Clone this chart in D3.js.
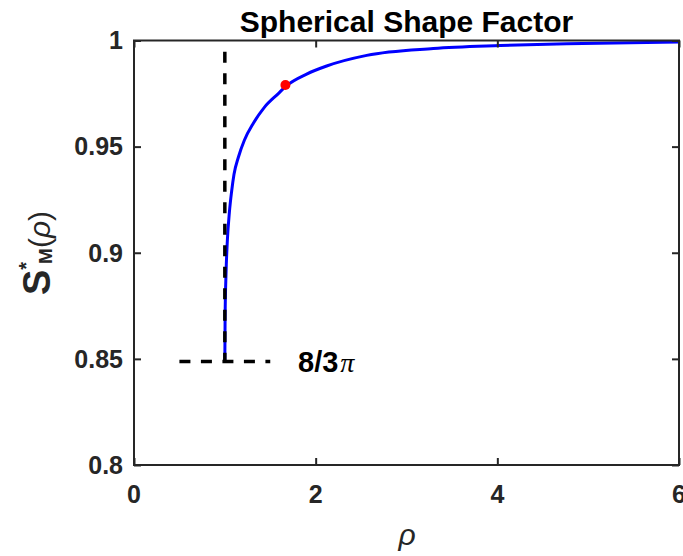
<!DOCTYPE html>
<html>
<head>
<meta charset="utf-8">
<script src="https://cdn.jsdelivr.net/npm/d3@7"></script>
<style>
  body { margin: 0; background: #fff; }
  text { font-family: "Liberation Sans", Arial, sans-serif; }
</style>
</head>
<body>
<svg id="chart" width="683" height="556" viewBox="0 0 683 556"></svg>
<script>
// values
let rho = [1.000, 1.003, 1.013, 1.028, 1.050, 1.075, 1.101, 1.149, 1.215, 1.314,
           1.435, 1.589, 1.673, 1.901, 2.121, 2.562, 3.295, 4.030, 4.764, 6.000];
let shape = [0.8488, 0.870, 0.890, 0.906, 0.919, 0.929, 0.937, 0.945, 0.953, 0.961,
             0.9685, 0.975, 0.9785, 0.9842, 0.988, 0.993, 0.9962, 0.9976, 0.9985, 0.9993];
let markerRho = [1.667];
let markerShape = [0.979];
let vLineRho = [1, 1];
let vLineShape = [0.9947, 0.8488];
let hLineRho = [0.5, 1.5];
let hLineShape = [0.8488, 0.8488];
let xTicks = [0, 2, 4, 6];
let yTicks = [0.8, 0.85, 0.9, 0.95, 1];
let yTickLabels = ["0.8", "0.85", "0.9", "0.95", "1"];

let svg = d3.select("#chart");
let margins = {top: 40.5, right: 4, bottom: 91, left: 134};
let innerWidth = 683 - margins.left - margins.right;
let innerHeight = 556 - margins.top - margins.bottom;

let x = d3.scaleLinear([0, 6], [0, innerWidth]);
let y = d3.scaleLinear([0.8, 1], [innerHeight, 0]);

let chart = svg.append("g")
    .attr("transform", `translate(${margins.left},${margins.top})`);

// curve
let line = d3.line()
    .x(d => x(d[0]))
    .y(d => y(d[1]))
    .curve(d3.curveMonotoneX);

chart.append("path")
    .datum(rho.map((r, i) => [r, shape[i]]))
    .attr("d", line)
    .attr("fill", "none")
    .attr("stroke", "#0000ff")
    .attr("stroke-width", 3);

// dashed guides
let guide = d3.line().x(d => x(d[0])).y(d => y(d[1]));
[[vLineRho, vLineShape], [hLineRho, hLineShape]].forEach(g => {
    chart.append("path")
        .datum(g[0].map((r, i) => [r, g[1][i]]))
        .attr("d", guide)
        .attr("fill", "none")
        .attr("stroke", "#000")
        .attr("stroke-width", 3.5)
        .attr("stroke-dasharray", "11,10.5");
});

// marker
chart.selectAll(".dot")
    .data(markerRho)
    .enter().append("circle")
    .attr("class", "dot")
    .attr("cx", d => x(d))
    .attr("cy", (d, i) => y(markerShape[i]))
    .attr("r", 5)
    .attr("fill", "#ff0000");

// axes box with inward ticks
let axisColor = "#262626";
function styleAxis(g) {
    g.select(".domain").remove();
    g.selectAll(".tick line").attr("stroke", axisColor).attr("stroke-width", 2);
    g.selectAll(".tick text").remove();
}
chart.append("g")
    .attr("transform", `translate(0,${innerHeight})`)
    .call(d3.axisBottom(x).tickValues(xTicks).tickSize(-7))
    .call(styleAxis);
chart.append("g")
    .call(d3.axisTop(x).tickValues(xTicks).tickSize(-7))
    .call(styleAxis);
chart.append("g")
    .call(d3.axisLeft(y).tickValues(yTicks).tickSize(-7))
    .call(styleAxis);
chart.append("g")
    .attr("transform", `translate(${innerWidth},0)`)
    .call(d3.axisRight(y).tickValues(yTicks).tickSize(-7))
    .call(styleAxis);

chart.append("rect")
    .attr("x", 0).attr("y", 0)
    .attr("width", innerWidth).attr("height", innerHeight)
    .attr("fill", "none")
    .attr("stroke", axisColor)
    .attr("stroke-width", 2);

// tick labels
chart.selectAll(".xlab")
    .data(xTicks)
    .enter().append("text")
    .attr("x", d => x(d))
    .attr("y", innerHeight + 38)
    .attr("text-anchor", "middle")
    .attr("font-size", 25)
    .attr("font-weight", "bold")
    .attr("fill", axisColor)
    .text(d => d);

chart.selectAll(".ylab")
    .data(yTicks)
    .enter().append("text")
    .attr("x", -11)
    .attr("y", d => y(d))
    .attr("dy", "0.35em")
    .attr("text-anchor", "end")
    .attr("font-size", 25)
    .attr("font-weight", "bold")
    .attr("fill", axisColor)
    .text((d, i) => yTickLabels[i]);

// title
svg.append("text")
    .attr("x", margins.left + innerWidth / 2)
    .attr("y", 32)
    .attr("text-anchor", "middle")
    .attr("font-size", 30)
    .attr("font-weight", "bold")
    .attr("fill", "#000")
    .text("Spherical Shape Factor");

// x label
svg.append("text")
    .attr("x", 407)
    .attr("y", 545)
    .attr("text-anchor", "middle")
    .attr("font-size", 30)
    .attr("font-style", "italic")
    .attr("fill", axisColor)
    .text("ρ");

// y label
let yl = svg.append("text")
    .attr("transform", "translate(50,253) rotate(-90)")
    .attr("text-anchor", "middle")
    .attr("fill", axisColor)
    .attr("font-weight", "bold");
yl.append("tspan").attr("font-size", 38).text("S");
yl.append("tspan").attr("font-size", 20).attr("dy", -17).text("*");
yl.append("tspan").attr("font-size", 19).attr("dx", -2).attr("dy", 19).text("M");
yl.append("tspan").attr("font-size", 30).attr("font-weight", "normal").attr("dy", -2).text("(");
yl.append("tspan").attr("font-size", 30).attr("font-weight", "normal").attr("font-style", "italic")
    .text("ρ");
yl.append("tspan").attr("font-size", 30).attr("font-weight", "normal").text(")");

// annotation
let ann = svg.append("text")
    .attr("x", 298)
    .attr("y", 372)
    .attr("fill", "#000");
ann.append("tspan").attr("font-size", 29).attr("font-weight", "bold").text("8/3");
ann.append("tspan").attr("font-size", 28).attr("font-style", "italic").attr("dx", 2)
    .style("font-family", "'Liberation Serif', serif").text("π");
</script>
</body>
</html>
